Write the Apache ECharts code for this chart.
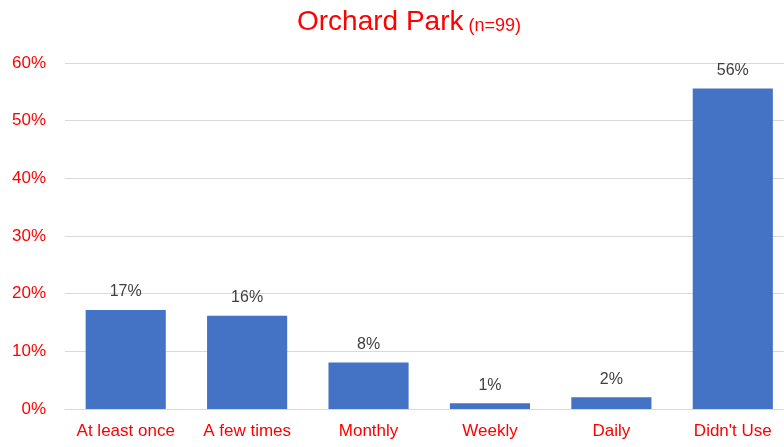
<!DOCTYPE html>
<html>
<head>
<meta charset="utf-8">
<script src="https://cdn.jsdelivr.net/npm/echarts@6/dist/echarts.min.js"></script>
<style>
  html, body { margin: 0; padding: 0; background: #fff; }
  #chart { width: 784px; height: 447px; }
</style>
</head>
<body>
<div id="chart"></div>
<script>
// Survey of park use frequency, Orchard Park (n = 99 respondents)
const categories = ['At least once', 'A few times', 'Monthly', 'Weekly', 'Daily', "Didn't Use"];
const respondentShare = [17.17, 16.16, 8.08, 1.01, 2.02, 55.56];
const yTicks = { min: 0, max: 60, step: 10 };

const chart = echarts.init(document.getElementById('chart'), null, { renderer: 'canvas' });
const FONT = '"Liberation Sans", Arial, sans-serif';

chart.setOption({
  animation: false,
  backgroundColor: '#ffffff',
  title: {
    text: '{main|Orchard Park} {sub|(n=99)}',
    left: 292,
    top: 3,
    textStyle: {
      fontWeight: 'normal',
      rich: {
        main: { fontSize: 28, color: '#ff0000', fontFamily: FONT, fontWeight: 'normal' },
        sub: { fontSize: 18, color: '#ff0000', fontFamily: FONT, fontWeight: 'normal', verticalAlign: 'bottom', padding: [0, 0, 1, 0] }
      }
    }
  },
  // plot area runs slightly past the right edge of the canvas
  grid: { left: 65, width: 728.5, top: 63, bottom: 38, containLabel: false, outerBoundsMode: 'none' },
  xAxis: {
    type: 'category',
    data: categories,
    axisTick: { show: false },
    axisLine: { lineStyle: { color: '#d9d9d9', width: 1 } },
    axisLabel: { color: '#ff0000', fontSize: 17, fontFamily: FONT, margin: 14, interval: 0 }
  },
  yAxis: {
    type: 'value',
    min: yTicks.min,
    max: yTicks.max,
    interval: yTicks.step,
    axisLine: { show: false },
    axisTick: { show: false },
    splitLine: { lineStyle: { color: '#d9d9d9', width: 1 } },
    axisLabel: { color: '#ff0000', fontSize: 17, fontFamily: FONT, margin: 19, formatter: '{value}%' }
  },
  series: [{
    type: 'bar',
    data: respondentShare,
    barCategoryGap: '34%',
    itemStyle: { color: '#4472c4' },
    label: {
      show: true,
      position: 'top',
      distance: 10,
      color: '#404040',
      fontSize: 16,
      fontFamily: FONT,
      formatter: p => Math.round(p.value) + '%'
    }
  }]
});
</script>
</body>
</html>
